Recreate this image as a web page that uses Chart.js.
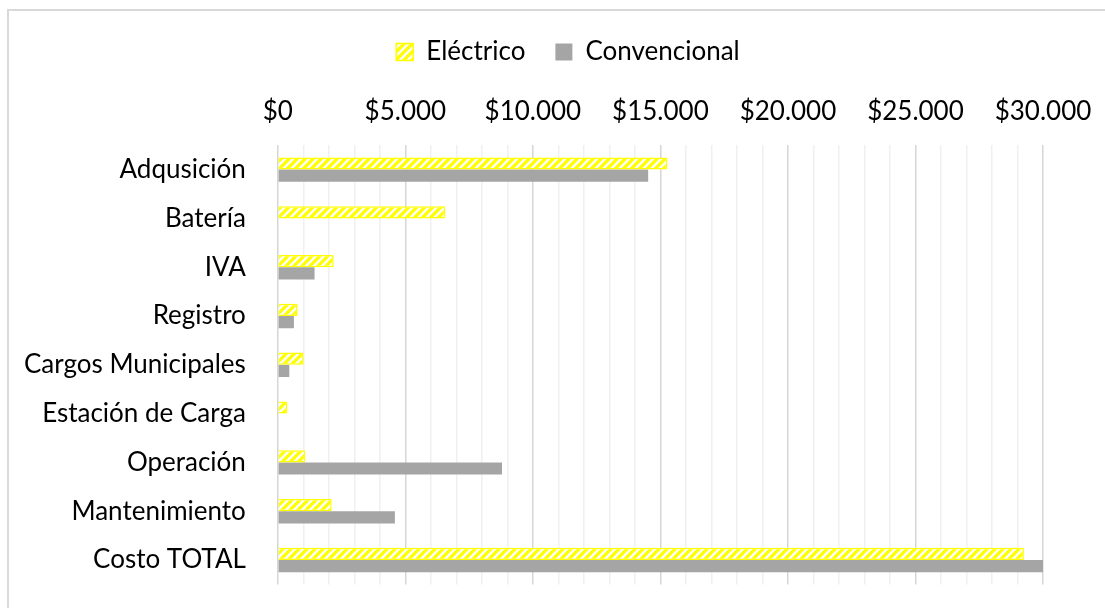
<!DOCTYPE html>
<html>
<head>
<meta charset="utf-8">
<script src="https://cdn.jsdelivr.net/npm/chart.js@4.4.1/dist/chart.umd.min.js"></script>
<style>
  body { margin: 0; background: #fff; overflow: hidden; }
  .frame {
    position: absolute; left: 7px; top: 9px;
    width: 1200px; height: 700px;
    border: 2px solid #d9d9d9;
  }
  .box { position: absolute; left: 0; top: 0; width: 1118px; height: 621px; }
</style>
</head>
<body>
<div class="frame">
  <div class="box"><canvas id="myChart"></canvas></div>
</div>
<script>
const categorias = [
    'Adqusición',
    'Batería',
    'IVA',
    'Registro',
    'Cargos Municipales',
    'Estación de Carga',
    'Operación',
    'Mantenimiento',
    'Costo TOTAL',
];
const electrico = [15260, 6560, 2190, 770, 1010, 370, 1070, 2110, 29250];
const convencional = [14520, 0, 1440, 630, 450, 0, 8790, 4590, 30000];
const ticksX = [0, 5000, 10000, 15000, 20000, 25000, 30000];

// amarillo con rayas blancas diagonales
function rayado() {
    const c = document.createElement('canvas');
    c.width = 8;
    c.height = 8;
    const g = c.getContext('2d');
    g.fillStyle = '#ffff00';
    g.fillRect(0, 0, 8, 8);
    g.strokeStyle = '#ffffff';
    g.lineWidth = 2.4;
    g.beginPath();
    g.moveTo(-2, 10); g.lineTo(10, -2);
    g.moveTo(-6, 6); g.lineTo(6, -6);
    g.moveTo(2, 14); g.lineTo(14, 2);
    g.stroke();
    return g.createPattern(c, 'repeat');
}

function pesos(v) {
    return '$' + v.toString().replace(/\B(?=(\d{3})+(?!\d))/g, '.');
}

// la leyenda va centrada en todo el recuadro y un poco más arriba
const moverLeyenda = {
    id: 'moverLeyenda',
    afterLayout(chart) {
        const lg = chart.legend;
        const dx = 559 - (lg.left + lg.right) / 2;
        lg.left += dx;
        lg.right += dx;
        lg.top -= 3;
        lg.bottom -= 3;
    }
};

const data = {
    labels: categorias,
    datasets: [{
        label: 'Eléctrico',
        backgroundColor: rayado(),
        borderColor: '#ffff00',
        borderWidth: 1.5,
        data: electrico,
    }, {
        label: 'Convencional',
        backgroundColor: '#a5a5a5',
        borderWidth: 0,
        data: convencional,
    }]
};

Chart.defaults.font.family = 'Lato';
Chart.defaults.font.size = 26;
Chart.defaults.color = '#000';

const config = {
    type: 'bar',
    data: data,
    plugins: [moverLeyenda],
    options: {
        indexAxis: 'y',
        maintainAspectRatio: false,
        animation: false,
        categoryPercentage: 0.5,
        barPercentage: 1,
        layout: { padding: { left: -17, right: 84, top: 1, bottom: 0 } },
        plugins: {
            tooltip: { enabled: false },
            legend: {
                position: 'top',
                labels: {
                    boxWidth: 17,
                    boxHeight: 17,
                    padding: 30,
                },
            },
        },
        scales: {
            x: {
                position: 'top',
                min: 0,
                max: 30000,
                border: { display: false },
                grid: {
                    drawTicks: false,
                    lineWidth: 1.5,
                    color: (ctx) => (ctx.tick && ctx.tick.value % 5000 === 0) ? '#d6d6d6' : '#f0f0f0',
                },
                ticks: {
                    stepSize: 1000,
                    autoSkip: false,
                    maxRotation: 0,
                    padding: 18,
                    callback: (v) => ticksX.includes(v) ? pesos(v) : '',
                },
            },
            y: {
                border: { display: false },
                grid: { display: false, drawTicks: false },
                ticks: { padding: 32 },
            },
        },
    },
};

const myChart = new Chart(document.getElementById('myChart'), config);
</script>
</body>
</html>
